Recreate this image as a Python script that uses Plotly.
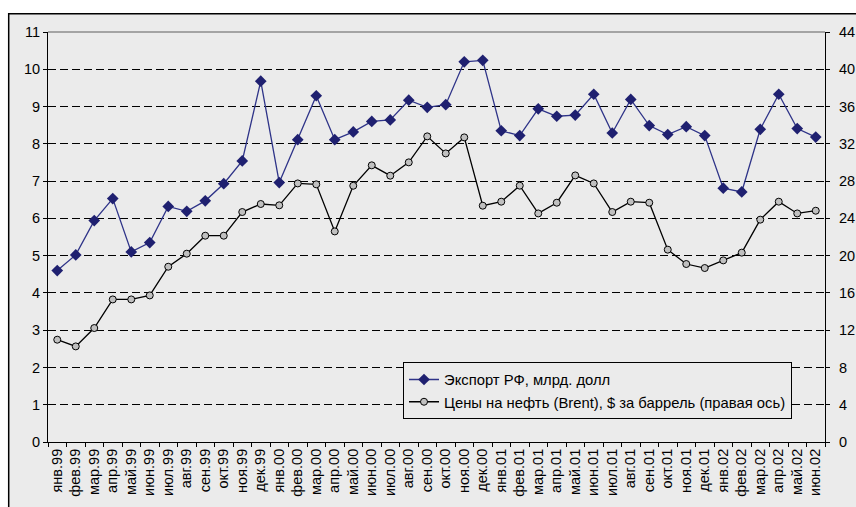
import plotly.graph_objects as go

months = ["янв", "фев", "мар", "апр", "май", "июн", "июл", "авг", "сен", "окт", "ноя", "дек"]
categories = [f"{m}.{y}" for y in ["99", "00", "01"] for m in months] + [f"{m}.02" for m in months[:6]]

export_bn = [4.60, 5.02, 5.94, 6.53, 5.10, 5.35, 6.32, 6.19, 6.47, 6.93, 7.54, 9.68,
             6.96, 8.11, 9.29, 8.11, 8.32, 8.60, 8.64, 9.17, 8.98, 9.05, 10.20, 10.24,
             8.35, 8.22, 8.94, 8.74, 8.77, 9.33, 8.29, 9.19, 8.49, 8.25, 8.46, 8.22,
             6.81, 6.71, 8.39, 9.33, 8.41, 8.18]

brent = [10.98, 10.26, 12.23, 15.30, 15.30, 15.73, 18.81, 20.21, 22.14, 22.14, 24.68, 25.54,
         25.40, 27.75, 27.65, 22.60, 27.50, 29.69, 28.58, 30.01, 32.80, 30.97, 32.69, 25.36,
         25.79, 27.51, 24.53, 25.68, 28.61, 27.75, 24.68, 25.79, 25.68, 20.64, 19.10, 18.67,
         19.49, 20.32, 23.86, 25.79, 24.53, 24.82]

name_export = "Экспорт РФ, млрд. долл"
name_brent = "Цены на нефть (Brent), $ за баррель (правая ось)"

FONT = "Arial, Liberation Sans, sans-serif"
BG = "#EBEBEB"

fig = go.Figure()
fig.add_trace(go.Scatter(
    x=categories, y=export_bn, name=name_export, mode="lines+markers",
    line=dict(color="#2E3388", width=1.3),
    marker=dict(symbol="diamond", size=9, color="#1F2070", line=dict(width=0)),
))
fig.add_trace(go.Scatter(
    x=categories, y=brent, name=name_brent, mode="lines+markers", yaxis="y2",
    line=dict(color="black", width=1.3),
    marker=dict(symbol="circle", size=7, color="#C0C0C0", line=dict(color="black", width=1)),
))

W, H = 856, 507
L, R, T, B = 48, 825, 32.3, 442.3
pw, ph = R - L, B - T

def px(x):
    return (x - L) / pw

def py(y):
    return (B - y) / ph

fig.update_layout(
    width=W, height=H,
    margin=dict(l=L, r=W - R, t=T, b=H - B, pad=0, autoexpand=False),
    paper_bgcolor="white", plot_bgcolor="rgba(0,0,0,0)",
    font=dict(family=FONT, size=14, color="black"),
    showlegend=True,
    legend=dict(
        x=px(403), y=py(362.7), xanchor="left", yanchor="top",
        bgcolor=BG, bordercolor="black", borderwidth=1,
        font=dict(family=FONT, size=14.8, color="black"),
        tracegroupgap=0, itemwidth=30,
    ),
    xaxis=dict(
        type="category", range=[-0.5, len(categories) - 0.5], automargin=False,
        showline=True, linecolor="black", linewidth=1,
        ticks="outside", ticklen=4, tickcolor="black", tickson="boundaries",
        tickangle=-90, showgrid=False, tickfont=dict(size=14.5),
    ),
    yaxis=dict(
        range=[0, 11], dtick=1, tick0=0, automargin=False,
        showline=True, linecolor="black", linewidth=1,
        ticks="outside", ticklen=4, tickcolor="black",
        showgrid=True, gridcolor="black", gridwidth=1, griddash="8px,4px",
        zeroline=False, tickfont=dict(size=14.5),
    ),
    yaxis2=dict(
        range=[0, 44], dtick=4, tick0=0, overlaying="y", side="right", automargin=False,
        showline=True, linecolor="black", linewidth=1,
        ticks="outside", ticklen=4, tickcolor="black",
        showgrid=False, zeroline=False, tickfont=dict(size=14.5),
        ticklabelstandoff=6,
    ),
    shapes=[
        dict(type="rect", xref="paper", yref="paper", layer="below",
             x0=px(8.7), x1=px(870), y0=py(520), y1=py(14),
             fillcolor=BG, line=dict(color="black", width=1.5)),
        dict(type="line", xref="paper", yref="paper", layer="above",
             x0=0, x1=1, y0=1, y1=1, line=dict(color="#8C8C8C", width=1.5)),
    ],
)

fig.write_html(
    "out.html",
    config={"displayModeBar": False},
    post_script="document.body.style.margin='0';document.body.style.overflow='hidden';",
)
